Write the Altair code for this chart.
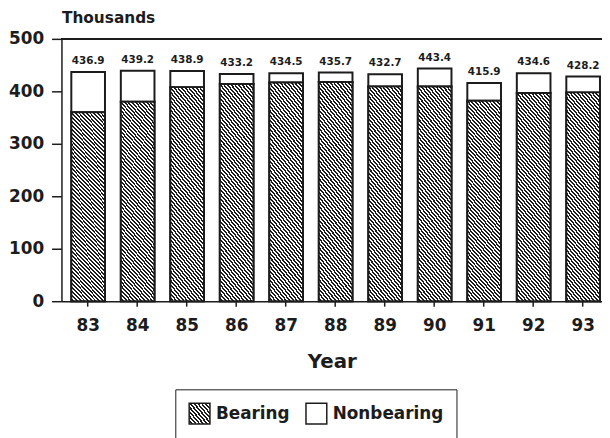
import json
import altair as alt
import pandas as pd

# ---- data ----
years = ["83", "84", "85", "86", "87", "88", "89", "90", "91", "92", "93"]
totals = [436.9, 439.2, 438.9, 433.2, 434.5, 435.7, 432.7, 443.4, 415.9, 434.6, 428.2]
bearing = [360, 380, 408, 414, 417, 418, 409, 409, 382, 397, 398]
kinds = ["Bearing", "Nonbearing"]
axis_top_value = 500

rows = []
for yr, tot, b in zip(years, totals, bearing):
    rows.append({"year": yr, "kind": "Bearing", "y0": 0, "y1": b})
    rows.append({"year": yr, "kind": "Nonbearing", "y0": b, "y1": tot})
df = pd.DataFrame(rows)
df_tot = pd.DataFrame({"year": years, "total": totals})
df_bear = df[df["kind"] == "Bearing"]

INK = "#1c1c1c"
FONT = "DejaVu Sans"


def hatch(n, x1, y1, x2, y2, dark=INK, light="#ffffff", frac=0.5):
    stops = []
    for i in range(n):
        a = round(i / n, 5)
        b = round((i + frac) / n, 5)
        c = round((i + 1) / n, 5)
        stops += [
            {"offset": a, "color": dark},
            {"offset": b, "color": dark},
            {"offset": b, "color": light},
            {"offset": c, "color": light},
        ]
    return {"gradient": "linear", "x1": x1, "y1": y1, "x2": x2, "y2": y2, "stops": stops}


bar_hatch = hatch(57, 1, 0, 0.779, 1.15)
legend_hatch = hatch(10, 1, 0, -0.08, 0.9)
legend_expr = json.dumps(legend_hatch)

x_scale = alt.Scale(paddingInner=0.32, paddingOuter=0.12, align=0.83)
y_scale = alt.Scale(domain=[0, 500])

x_bottom = alt.X(
    "year:N",
    scale=x_scale,
    sort=years,
    axis=alt.Axis(
        title="Year",
        labelAngle=0,
        labelFontSize=17,
        labelFontWeight="bold",
        labelColor=INK,
        labelPadding=12,
        tickSize=5,
        tickColor=INK,
        tickWidth=1.5,
        domainColor=INK,
        domainWidth=1.5,
        titleFontSize=20,
        titleFontWeight="bold",
        titleColor=INK,
        titlePadding=18,
    ),
)

y_axis = alt.Axis(
    title="Thousands",
    values=[0, 100, 200, 300, 400, 500],
    grid=False,
    labelFontSize=17,
    labelFontWeight="bold",
    labelColor=INK,
    labelPadding=8,
    tickSize=10,
    tickColor=INK,
    tickWidth=1.5,
    domainColor=INK,
    domainWidth=1.5,
    titleAngle=0,
    titleAlign="left",
    titleBaseline="alphabetic",
    titleX=0,
    titleY=-17,
    titleFontSize=15.5,
    titleFontWeight="bold",
    titleColor=INK,
)

base_bars = (
    alt.Chart(df)
    .mark_bar(stroke=INK, strokeWidth=2)
    .encode(
        x=x_bottom,
        y=alt.Y("y1:Q", scale=y_scale, axis=y_axis),
        y2="y0:Q",
        color=alt.Color(
            "kind:N",
            scale=alt.Scale(domain=kinds, range=[{"expr": legend_expr}, "white"]),
            legend=alt.Legend(
                title=None,
                orient="none",
                legendX=115,
                legendY=354,
                direction="horizontal",
                symbolType="square",
                symbolSize=441,
                symbolStrokeColor=INK,
                symbolStrokeWidth=1.5,
                labelFontSize=17,
                labelFontWeight="bold",
                labelColor=INK,
                labelOffset=5,
                columnPadding=13,
                padding=13,
                strokeColor=INK,
            ),
        ),
    )
)

hatched = (
    alt.Chart(df_bear)
    .mark_bar(stroke=INK, strokeWidth=2, fill=bar_hatch)
    .encode(
        x=alt.X("year:N", scale=x_scale, sort=years),
        y=alt.Y("y1:Q", scale=y_scale),
        y2="y0:Q",
    )
)

top_line = (
    alt.Chart(df_tot)
    .mark_rule(color=INK, strokeWidth=1.5)
    .encode(y=alt.datum(axis_top_value))
)

labels = (
    alt.Chart(df_tot)
    .mark_text(baseline="bottom", dy=-6, fontSize=10.5, fontWeight="bold", font=FONT, color=INK)
    .encode(
        x=alt.X("year:N", scale=x_scale, sort=years),
        y=alt.Y("total:Q", scale=y_scale),
        text=alt.Text("total:Q", format=".1f"),
    )
)

chart = (
    alt.layer(base_bars, hatched, top_line, labels)
    .properties(
        width=546,
        height=265,
        autosize=alt.AutoSizeParams(type="none"),
        padding={"left": 54, "top": 29, "right": 0, "bottom": 136},
    )
    .configure(font=FONT)
    .configure_view(stroke=None)
)

chart.save("out.html", embed_options={"renderer": "svg", "actions": False})
